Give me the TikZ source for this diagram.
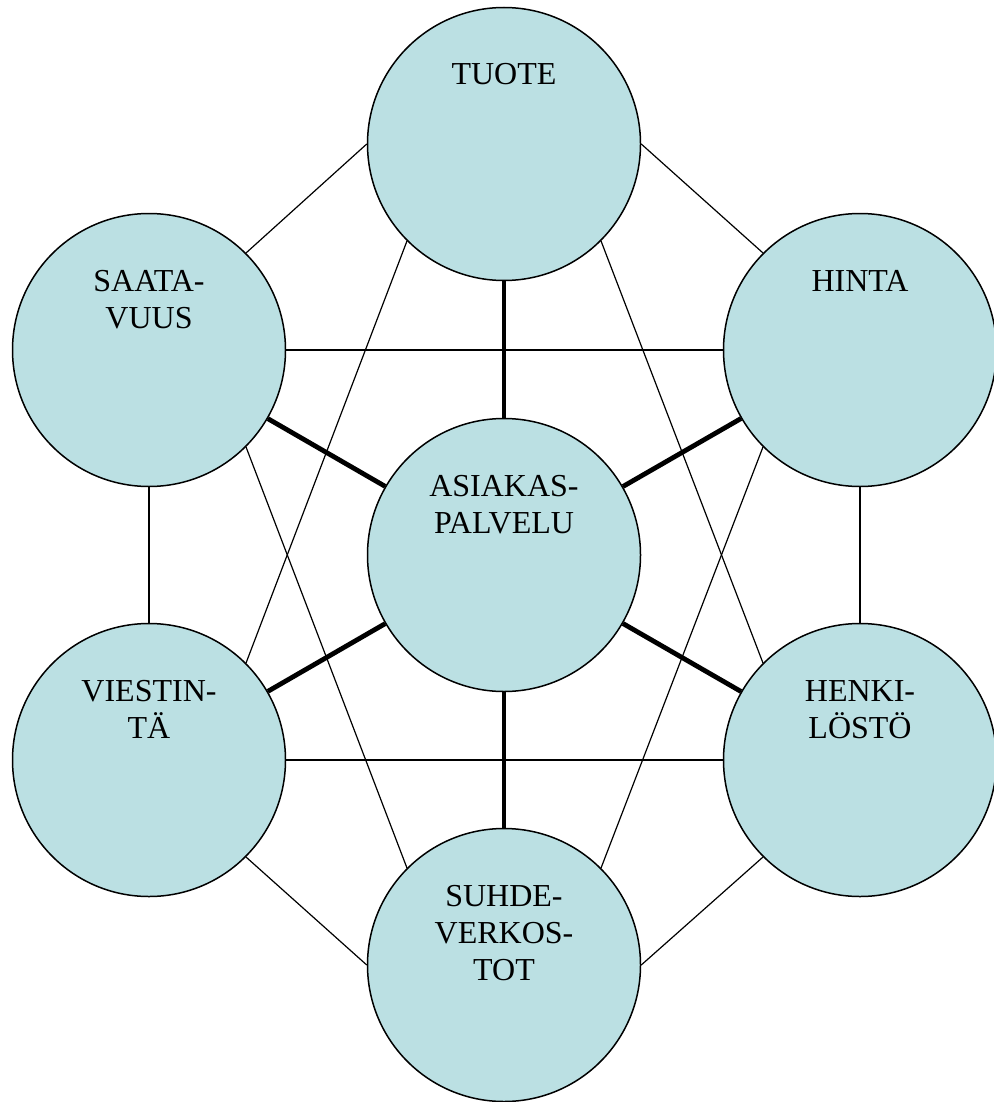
\documentclass[tikz,border=0pt]{standalone}
\usepackage{fontspec}
\setmainfont{Liberation Serif}
\definecolor{ballfill}{RGB}{187,224,227}
\begin{document}
\begin{tikzpicture}[x=0.5pt,y=-0.5pt,
  ball/.style={circle,draw=black,line width=0.75pt,fill=ballfill,minimum size=136.5pt,inner sep=0pt},
  lbl/.style={anchor=base,text width=130pt,align=center,inner sep=0pt,font=\fontsize{16pt}{18.5pt}\selectfont},
  thin/.style={draw=black,line width=0.6pt},
  thick/.style={draw=black,line width=2.4pt}]
\useasboundingbox (0,0) rectangle (993,1102);
\node[ball] (T) at (504,144) {};
\node[ball] (S) at (149,350) {};
\node[ball] (H) at (860,350) {};
\node[ball] (A) at (504,555) {};
\node[ball] (V) at (149,760) {};
\node[ball] (K) at (860,760) {};
\node[ball] (U) at (504,965) {};
% thin connectors
\draw[thin] (T.west) -- (S.north east);
\draw[thin] (T.east) -- (H.north west);
\draw[thin] (S.east) -- (H.west);
\draw[thin] (S.south) -- (V.north);
\draw[thin] (H.south) -- (K.north);
\draw[thin] (V.east) -- (K.west);
\draw[thin] (V.south east) -- (U.west);
\draw[thin] (K.south west) -- (U.east);
\draw[thin] (T.south west) -- (V.north east);
\draw[thin] (T.south east) -- (K.north west);
\draw[thin] (S.south east) -- (U.north west);
\draw[thin] (H.south west) -- (U.north east);
% thick connectors
\draw[thick] (A) -- (T);
\draw[thick] (A) -- (S);
\draw[thick] (A) -- (H);
\draw[thick] (A) -- (V);
\draw[thick] (A) -- (K);
\draw[thick] (A) -- (U);
% labels
\node[lbl] (tT) at ([yshift=29.5pt]T.center) {TUOTE};
\node[lbl] (tS) at ([yshift=29.5pt]S.center) {SAATA-\\VUUS};
\node[lbl] (tH) at ([yshift=29.5pt]H.center) {HINTA};
\node[lbl] (tA) at ([yshift=29.5pt]A.center) {ASIAKAS-\\PALVELU};
\node[lbl] (tV) at ([yshift=29.5pt]V.center) {VIESTIN-\\TÄ};
\node[lbl] (tK) at ([yshift=29.5pt]K.center) {HENKI-\\LÖSTÖ};
\node[lbl] (tU) at ([yshift=29.5pt]U.center) {SUHDE-\\VERKOS-\\TOT};
\end{tikzpicture}
\end{document}
